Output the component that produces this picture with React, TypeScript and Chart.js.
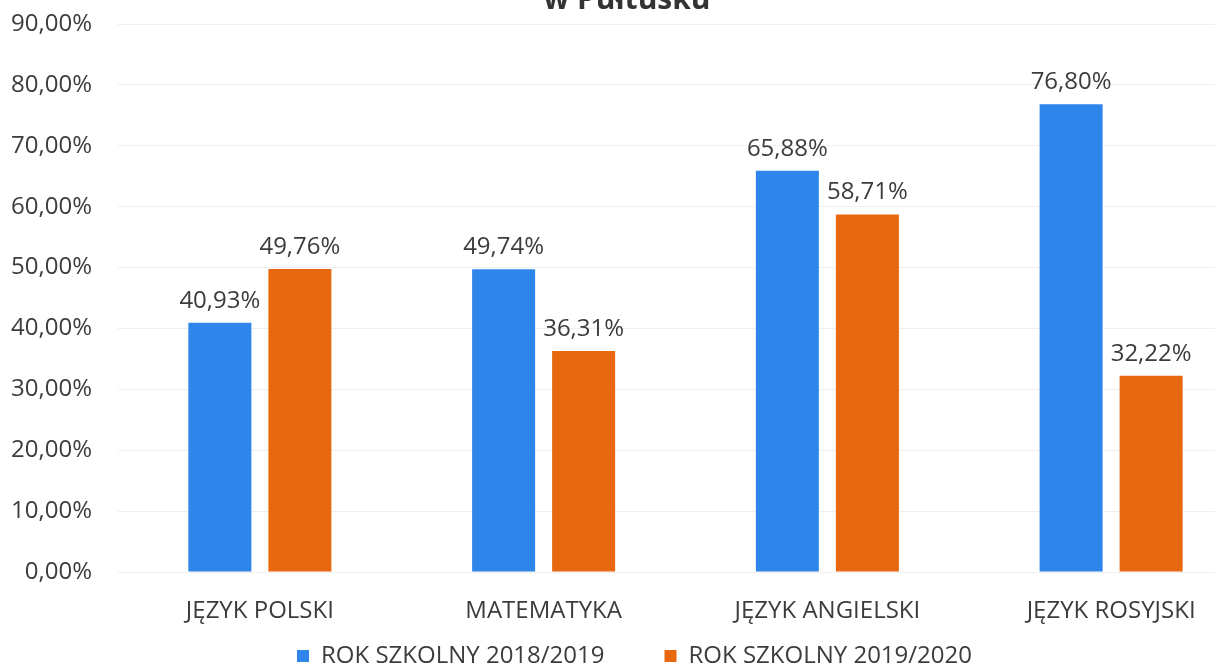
import React, { useEffect, useRef } from "react";
import { Chart, registerables } from "chart.js";

Chart.register(...registerables);

const categories = ["JĘZYK POLSKI", "MATEMATYKA", "JĘZYK ANGIELSKI", "JĘZYK ROSYJSKI"];
const series2018 = [40.93, 49.74, 65.88, 76.8];
const series2019 = [49.76, 36.31, 58.71, 32.22];
const seriesNames = ["ROK SZKOLNY 2018/2019", "ROK SZKOLNY 2019/2020"];
const titleText = "w Pułtusku";

const FONT = "'Open Sans', 'Noto Sans', sans-serif";
const TEXT = "#3c3c3c";
const W = 1270;
const H = 722;
const LEGEND_PAD = 60;

const fmt = (v: number) => v.toFixed(2).replace(".", ",") + "%";

const labelPlugin = {
  id: "barLabels",
  afterDatasetsDraw(chart: any) {
    const ctx = chart.ctx;
    ctx.save();
    ctx.font = `24px ${FONT}`;
    ctx.fillStyle = TEXT;
    ctx.textAlign = "center";
    ctx.textBaseline = "bottom";
    chart.data.datasets.forEach((ds: any, i: number) => {
      const meta = chart.getDatasetMeta(i);
      meta.data.forEach((bar: any, j: number) => {
        ctx.fillText(fmt(ds.data[j]), bar.x, bar.y - 10);
      });
    });
    ctx.restore();
  },
};

const titlePlugin = {
  id: "cutTitle",
  afterDraw(chart: any) {
    const ctx = chart.ctx;
    ctx.save();
    ctx.font = `bold 30px ${FONT}`;
    ctx.fillStyle = "#333333";
    ctx.textAlign = "center";
    ctx.textBaseline = "alphabetic";
    ctx.fillText(titleText, 627, 9);
    ctx.restore();
  },
};

// move the legend so its row sits right under the axis labels
const legendShift = {
  id: "legendShift",
  afterLayout(chart: any) {
    const lg = chart.legend;
    if (!lg) return;
    const target = 656 - LEGEND_PAD - 12;
    const d = lg.top - target;
    lg.top -= d;
    lg.bottom -= d;
    lg.left += 8;
    lg.right += 8;
  },
};

export default function App() {
  const ref = useRef<HTMLCanvasElement>(null);
  useEffect(() => {
    document.body.style.overflow = "hidden";
    const chart = new Chart(ref.current!, {
      type: "bar",
      data: {
        labels: categories,
        datasets: [
          { label: seriesNames[0], data: series2018, backgroundColor: "#2e86ea" },
          { label: seriesNames[1], data: series2019, backgroundColor: "#e8680f" },
        ],
      },
      options: {
        animation: false,
        responsive: false,
        devicePixelRatio: 1,
        layout: { padding: { top: 24, right: 17, left: 0, bottom: 0 } },
        datasets: { bar: { categoryPercentage: 0.564, barPercentage: 0.7875 } },
        scales: {
          x: {
            grid: { display: false, drawTicks: false },
            border: { display: false },
            ticks: { color: TEXT, font: { family: FONT, size: 24 }, padding: 25 },
            afterFit: (s: any) => { s.height = 56; },
          },
          y: {
            min: 0,
            max: 90,
            grid: { color: "#efefef", drawTicks: false },
            border: { display: false },
            ticks: {
              stepSize: 10,
              color: TEXT,
              font: { family: FONT, size: 24 },
              padding: 26,
              callback: (v: any) => fmt(Number(v)),
            },
            afterFit: (s: any) => {
              s.width = 118;
              s.paddingTop = 0;
              s.paddingBottom = 0;
            },
          },
        },
        plugins: {
          legend: {
            position: "bottom",
            labels: {
              color: TEXT,
              font: { family: FONT, size: 24 },
              boxWidth: 12,
              boxHeight: 12,
              padding: LEGEND_PAD,
            },
          },
          tooltip: { enabled: false },
        },
      },
      plugins: [labelPlugin, titlePlugin, legendShift],
    });
    return () => chart.destroy();
  }, []);
  return (
    <div style={{ position: "absolute", left: 0, top: 0, width: W, height: H }}>
      <canvas ref={ref} width={W} height={H} style={{ width: W, height: H }} />
    </div>
  );
}
